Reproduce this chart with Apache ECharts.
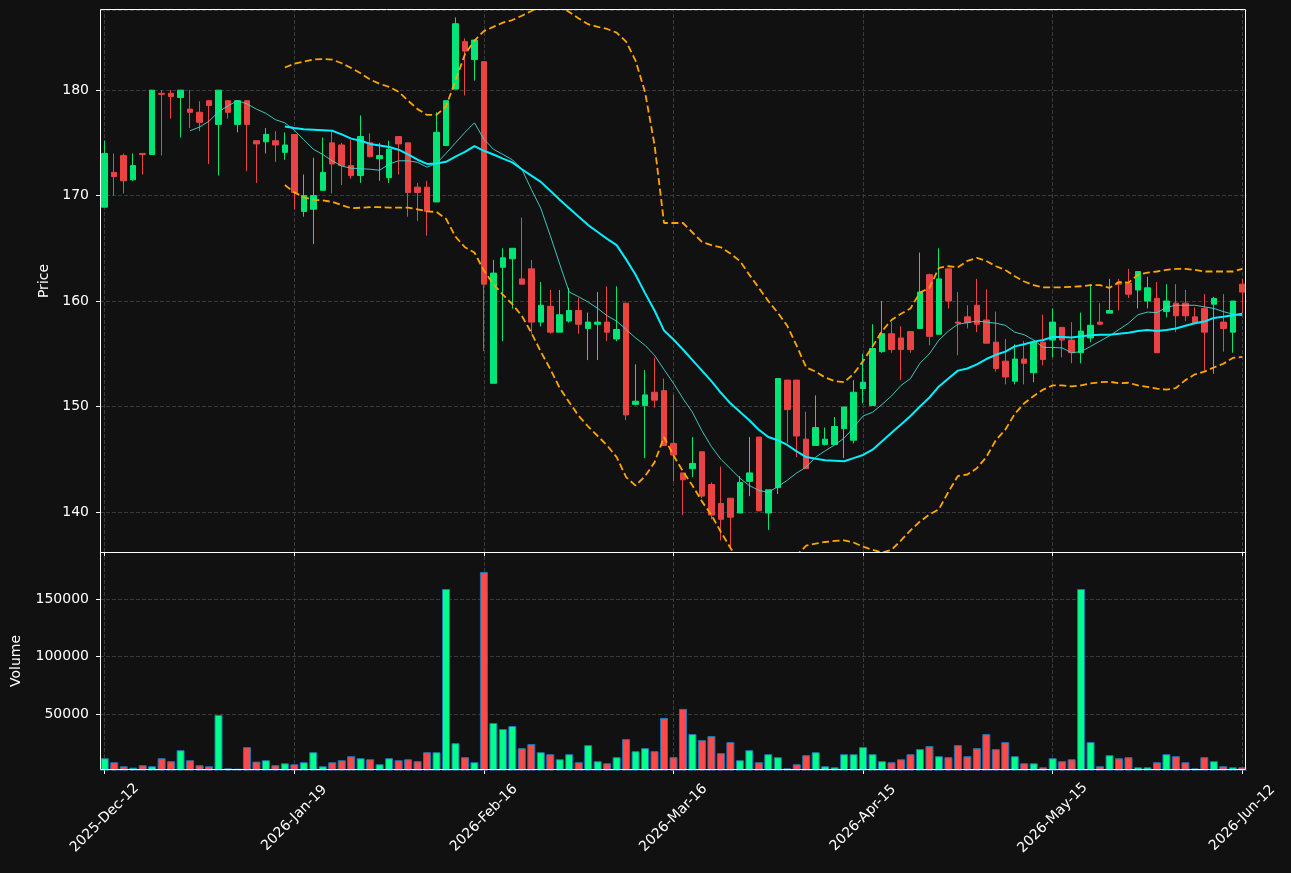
<!DOCTYPE html>
<html>
<head>
<meta charset="utf-8">
<title>Price and volume</title>
<script src="https://cdn.jsdelivr.net/npm/echarts@6/dist/echarts.min.js"></script>
<style>
  html, body { margin: 0; padding: 0; background: #111111; }
  #main { width: 1291px; height: 873px; }
</style>
</head>
<body>
<div id="main"></div>
<script>
// trading days (category axis)
var dates = [
  '2025-12-12','2025-12-15','2025-12-16','2025-12-17','2025-12-18','2025-12-19','2025-12-22','2025-12-23','2025-12-29','2025-12-30',
  '2026-01-05','2026-01-06','2026-01-07','2026-01-08','2026-01-09','2026-01-12','2026-01-13','2026-01-14','2026-01-15','2026-01-16',
  '2026-01-19','2026-01-20','2026-01-21','2026-01-22','2026-01-23','2026-01-26','2026-01-27','2026-01-28','2026-01-29','2026-01-30',
  '2026-02-02','2026-02-03','2026-02-04','2026-02-05','2026-02-06','2026-02-09','2026-02-10','2026-02-11','2026-02-12','2026-02-13',
  '2026-02-16','2026-02-17','2026-02-18','2026-02-19','2026-02-20','2026-02-23','2026-02-24','2026-02-25','2026-02-26','2026-02-27',
  '2026-03-02','2026-03-03','2026-03-04','2026-03-05','2026-03-06','2026-03-09','2026-03-10','2026-03-11','2026-03-12','2026-03-13',
  '2026-03-16','2026-03-17','2026-03-18','2026-03-19','2026-03-20','2026-03-23','2026-03-24','2026-03-25','2026-03-26','2026-03-27',
  '2026-03-30','2026-03-31','2026-04-01','2026-04-02','2026-04-07','2026-04-08','2026-04-09','2026-04-10','2026-04-13','2026-04-14',
  '2026-04-15','2026-04-16','2026-04-17','2026-04-20','2026-04-21','2026-04-22','2026-04-23','2026-04-24','2026-04-27','2026-04-28',
  '2026-04-29','2026-04-30','2026-05-04','2026-05-05','2026-05-06','2026-05-07','2026-05-08','2026-05-11','2026-05-12','2026-05-13',
  '2026-05-15','2026-05-18','2026-05-19','2026-05-20','2026-05-21','2026-05-22','2026-05-25','2026-05-26','2026-05-27','2026-05-28',
  '2026-05-29','2026-06-01','2026-06-02','2026-06-03','2026-06-04','2026-06-05','2026-06-08','2026-06-09','2026-06-10','2026-06-11',
  '2026-06-12'
];

// labelled ticks on the date axis
var tickDates = ['2025-12-12','2026-01-19','2026-02-16','2026-03-16','2026-04-15','2026-05-15','2026-06-12'];
var monthNames = ['Jan','Feb','Mar','Apr','May','Jun','Jul','Aug','Sep','Oct','Nov','Dec'];

var opens = [
  168.9, 172.2, 173.8, 171.5, 174.0, 173.9, 179.7, 179.7, 179.3, 178.2,
  177.9, 179.0, 176.75, 179.0, 176.75, 179.0, 175.2, 175.1, 175.2, 174.1,
  175.8, 168.5, 168.7, 170.5, 175.0, 174.8, 172.85, 171.9, 175.0, 173.5,
  171.7, 175.6, 175.0, 170.8, 170.8, 169.4, 174.75, 180.1, 184.6, 182.9,
  182.7, 152.2, 163.2, 164.0, 162.1, 163.05, 158.0, 159.5, 157.05, 158.1,
  159.1, 157.4, 157.8, 158.0, 156.4, 159.8, 150.2, 150.1, 151.35, 151.5,
  146.5, 143.7, 144.1, 145.7, 142.6, 140.8, 141.3, 139.9, 142.9, 147.1,
  139.9, 142.3, 152.5, 152.5, 146.9, 146.3, 146.4, 146.4, 147.9, 146.8,
  151.7, 150.1, 155.2, 156.9, 156.5, 157.1, 157.4, 162.5, 156.85, 163.05,
  158.0, 158.5, 159.6, 158.2, 156.1, 154.3, 152.4, 154.5, 153.2, 156.1,
  156.3, 157.5, 156.3, 155.1, 156.5, 158.0, 158.85, 161.8, 161.7, 161.05,
  160.0, 160.25, 159.0, 159.8, 159.8, 158.5, 159.3, 159.7, 158.0, 157.05,
  161.6
];
var closes = [
  174.0, 171.8, 171.4, 172.85, 173.9, 180.0, 179.6, 179.4, 180.0, 177.9,
  176.95, 178.55, 180.0, 177.9, 179.0, 176.75, 174.9, 175.8, 174.8, 174.8,
  170.3, 170.0, 170.0, 172.2, 173.0, 172.85, 171.9, 175.6, 173.7, 173.8,
  174.4, 174.9, 170.3, 170.3, 168.5, 176.0, 179.0, 186.3, 183.7, 184.75,
  161.6, 162.65, 164.1, 165.0, 161.6, 158.0, 159.6, 157.05, 158.7, 159.1,
  157.8, 158.0, 158.0, 157.05, 157.3, 149.2, 150.5, 151.1, 150.6, 146.3,
  145.4, 143.05, 144.6, 141.5, 139.7, 139.3, 139.5, 142.8, 143.7, 140.1,
  142.1, 152.65, 149.7, 147.2, 144.1, 148.0, 146.9, 148.1, 149.95, 151.35,
  152.3, 155.5, 156.9, 155.4, 155.4, 155.4, 160.85, 156.65, 162.1, 160.0,
  157.9, 157.95, 157.8, 156.0, 153.6, 152.8, 154.5, 154.1, 156.1, 154.45,
  158.0, 156.3, 155.1, 157.15, 157.7, 157.8, 159.1, 161.6, 160.65, 162.8,
  161.25, 155.1, 160.0, 158.6, 158.6, 157.95, 157.05, 160.25, 157.4, 160.0,
  160.85
];
var lows = [
  168.9, 170.0, 170.2, 171.4, 172.0, 173.9, 173.8, 177.3, 175.5, 176.4,
  176.1, 173.0, 171.9, 177.3, 176.0, 172.3, 171.2, 174.0, 173.2, 173.4,
  168.7, 168.0, 165.4, 170.5, 170.2, 171.0, 171.6, 171.2, 173.6, 171.4,
  171.2, 172.0, 168.0, 167.6, 166.2, 169.4, 174.75, 180.1, 179.5, 180.9,
  155.25, 152.2, 156.2, 159.3, 161.6, 156.9, 157.6, 156.9, 157.05, 157.95,
  156.9, 154.4, 154.4, 156.2, 156.2, 148.7, 150.1, 145.1, 149.9, 146.3,
  142.9, 139.7, 143.3, 141.3, 139.3, 137.3, 136.7, 139.9, 141.5, 140.1,
  138.3, 141.7, 146.5, 145.2, 144.1, 146.3, 146.3, 146.4, 145.1, 146.5,
  150.3, 150.1, 155.1, 155.1, 152.5, 155.1, 157.4, 155.8, 156.85, 159.3,
  154.85, 157.4, 157.05, 156.0, 153.3, 152.1, 152.1, 152.1, 152.3, 153.9,
  154.65, 154.65, 154.1, 154.1, 156.1, 157.8, 158.85, 159.1, 160.3, 159.3,
  159.3, 155.1, 158.45, 157.05, 158.1, 157.95, 153.4, 153.1, 155.2, 155.1,
  158.85
];
var highs = [
  175.2, 174.0, 174.0, 174.0, 174.0, 180.0, 180.0, 180.0, 180.0, 180.0,
  178.95, 179.0, 180.0, 179.0, 179.0, 179.0, 175.2, 176.4, 176.1, 176.0,
  175.8, 172.0, 173.6, 175.5, 176.2, 175.0, 175.3, 177.6, 175.9, 175.0,
  175.2, 175.6, 175.0, 171.2, 171.4, 177.9, 179.0, 186.9, 184.9, 184.75,
  182.7, 163.9, 165.0, 165.0, 167.9, 163.9, 161.8, 161.05, 161.05, 161.25,
  160.3, 158.9, 160.85, 161.4, 161.4, 159.8, 154.0, 153.45, 154.6, 152.65,
  151.1, 143.7, 147.1, 145.7, 142.8, 144.3, 141.3, 143.4, 147.1, 147.1,
  142.1, 152.65, 152.5, 152.5, 149.5, 151.05, 148.0, 149.0, 149.95, 152.5,
  155.0, 157.8, 160.0, 158.0, 157.6, 157.1, 164.6, 162.6, 165.0, 163.05,
  160.85, 159.6, 162.1, 161.1, 159.0, 156.4, 155.9, 156.2, 156.1, 158.7,
  159.3, 157.5, 158.0, 158.9, 161.6, 159.8, 162.1, 162.1, 163.05, 162.8,
  162.3, 161.8, 161.6, 161.6, 161.05, 159.4, 160.65, 160.4, 160.65, 160.0,
  162.1
];
var volumes = [
  11400, 7900, 4400, 3200, 5300, 4400, 11400, 8800, 18400, 9650,
  5300, 4400, 49100, 2600, 2300, 21050, 8500, 9650, 5300, 7000,
  6150, 7900, 16650, 4400, 7900, 9650, 13150, 11400, 10500, 6150,
  11400, 9650, 10500, 8800, 16650, 16650, 158800, 24550, 12300, 7900,
  173700, 42100, 36850, 39500, 20200, 23700, 16650, 14900, 10500, 14900,
  7900, 22800, 8800, 7000, 12300, 28050, 17550, 20200, 17550, 46500,
  12300, 54400, 32450, 27200, 30700, 15800, 25450, 9650, 18400, 7900,
  14900, 12300, 2600, 6150, 14050, 16650, 4400, 3500, 14900, 14900,
  21050, 14900, 8800, 7900, 10500, 14900, 19300, 21950, 13150, 12300,
  22800, 13150, 20200, 32450, 19300, 25450, 13150, 7000, 7000, 3500,
  11400, 8800, 10500, 158800, 25450, 4400, 14050, 11400, 12300, 3500,
  3500, 7900, 14900, 13150, 7900, 2600, 12300, 8800, 4400, 3500,
  3500
];

// indicator lines (they start once the window fills)
var ma10Start = 9;
var ma10 = [
  176.15,
  176.5, 177.05, 177.95, 178.5, 179.0, 178.7, 178.2, 177.8, 177.2, 176.9,
  176.2, 175.3, 174.4, 173.9, 173.3, 172.8, 172.6, 172.55, 172.5, 172.4,
  173.0, 173.3, 173.3, 173.15, 172.7, 173.05, 174.0, 175.0, 176.0, 176.9,
  175.35, 174.4, 173.9, 173.4, 172.5, 170.6, 168.8, 166.2, 163.5, 160.85,
  160.4, 159.9, 159.3, 158.6, 158.1, 157.3, 156.5, 155.8, 154.85, 153.5,
  152.2, 150.75, 149.45, 147.7, 146.2, 145.0, 144.1, 143.2, 142.5, 142.05,
  141.85, 142.4, 143.0, 143.7, 144.25, 145.2, 145.8, 146.35, 147.0, 148.0,
  149.1, 149.45, 150.2, 151.0, 152.0, 152.65, 154.1, 155.0, 156.3, 157.15,
  157.8, 157.95, 158.1, 158.0, 157.9, 157.7, 157.05, 156.8, 156.3, 155.6,
  155.6, 155.55, 155.1, 155.2, 155.7, 156.2, 156.7, 157.3, 157.9, 158.7,
  158.95, 158.9, 159.4, 159.6, 159.6, 159.6, 159.45, 159.3, 159.0, 158.75,
  158.6
];
var ma20Start = 19;
var ma20 = [
  176.55,
  176.4, 176.3, 176.25, 176.2, 176.15, 175.8, 175.4, 175.2, 174.9, 174.75,
  174.6, 174.35, 173.9, 173.4, 173.0, 173.05, 173.2, 173.7, 174.15, 174.7,
  174.25, 173.9, 173.5, 173.15, 172.5, 171.9, 171.3, 170.45, 169.6, 168.8,
  168.0, 167.2, 166.55, 165.9, 165.3, 163.95, 162.5, 160.75, 159.1, 157.2,
  156.35, 155.4, 154.4, 153.4, 152.4, 151.3, 150.3, 149.5, 148.7, 147.8,
  147.1, 146.8, 146.35, 145.75, 145.2, 145.05, 144.9, 144.85, 144.8, 145.1,
  145.4, 145.9, 146.7, 147.5, 148.3, 149.1, 150.0, 150.85, 151.9, 152.65,
  153.4, 153.6, 154.0, 154.5, 154.9, 155.2, 155.7, 155.9, 156.15, 156.3,
  156.6, 156.6, 156.55, 156.65, 156.75, 156.8, 156.8, 156.9, 157.0, 157.15,
  157.25, 157.15, 157.25, 157.4, 157.65, 157.9, 158.05, 158.4, 158.5, 158.65,
  158.8
];
var bandStart = 19;
var bandUpper = [
  182.15,
  182.5, 182.7, 182.9, 182.95, 182.9, 182.55, 182.1, 181.6, 181.0, 180.6,
  180.3, 179.85, 179.0, 178.2, 177.65, 177.65, 178.45, 180.9, 183.4, 184.7,
  185.6, 186.0, 186.4, 186.65, 187.05, 187.5, 188.0, 188.2, 188.0, 187.4,
  186.8, 186.25, 186.0, 185.8, 185.45, 184.6, 182.8, 179.8, 174.8, 167.4,
  167.4, 167.4, 166.5, 165.6, 165.3, 165.1, 164.5, 163.8, 162.5, 161.25,
  160.0, 158.9, 157.65, 155.75, 153.7, 153.3, 152.75, 152.4, 152.3, 153.1,
  154.3, 155.7, 157.15, 158.2, 158.8, 159.3, 160.8, 161.25, 163.15, 163.3,
  163.2, 163.8, 164.1, 163.8, 163.3, 162.95, 162.35, 161.85, 161.5, 161.3,
  161.3, 161.3, 161.35, 161.4, 161.5, 161.5, 161.25, 161.8, 161.75, 162.5,
  162.7, 162.8, 162.95, 163.05, 163.05, 162.95, 162.8, 162.8, 162.8, 162.8,
  163.05
];
var bandLower = [
  171.0,
  170.3, 169.85, 169.6, 169.55, 169.4, 169.1, 168.8, 168.85, 168.9, 168.9,
  168.85, 168.85, 168.85, 168.7, 168.5, 168.45, 167.8, 166.1, 165.1, 164.6,
  162.9, 161.6, 160.6, 159.7, 158.6, 157.0, 155.2, 153.55, 151.75, 150.4,
  149.1, 148.1, 147.2, 146.3, 145.2, 143.3, 142.5, 143.4, 144.7, 147.1,
  145.35, 143.85, 142.5, 141.0, 139.7, 138.1, 136.6, 135.2, 134.9, 134.4,
  134.2, 134.7, 135.1, 135.9, 136.8, 137.0, 137.15, 137.25, 137.3, 137.1,
  136.7, 136.4, 136.15, 136.4, 137.3, 138.25, 139.1, 139.75, 140.25, 141.9,
  143.4, 143.55, 144.15, 145.2, 146.8, 147.8, 149.3, 150.3, 151.0, 151.6,
  152.0, 152.0, 151.9, 152.0, 152.2, 152.3, 152.35, 152.2, 152.25, 152.0,
  151.85, 151.7, 151.6, 151.75, 152.5, 153.05, 153.3, 153.7, 154.05, 154.6,
  154.7
];

var upColor = '#00e676', downColor = '#ea4343';
var volUp = '#00ff88', volDown = '#ff4848';
var textColor = '#ffffff';
var gridLine = '#3a3a3a';
var font = 'DejaVu Sans';

function padFront(arr, start) {
  var out = [];
  for (var i = 0; i < start; i++) out.push(null);
  return out.concat(arr);
}
function fmtDate(d) {
  var p = d.split('-');
  return p[0] + '-' + monthNames[parseInt(p[1], 10) - 1] + '-' + p[2];
}
function isTick(idx, val) { return tickDates.indexOf(val) >= 0; }

var candleData = dates.map(function (d, i) {
  return [opens[i], closes[i], lows[i], highs[i]];
});
var volumeData = volumes.map(function (v, i) {
  return { value: v, itemStyle: { color: closes[i] >= opens[i] ? volUp : volDown } };
});
var vLines = tickDates.map(function (d) { return { xAxis: d }; });
var blank = dates.map(function () { return null; });

var myChart = echarts.init(document.getElementById('main'), null, { renderer: 'canvas' });

// vertical date gridlines live on an empty helper series so they stay behind the marks
function gridSeries(axisIdx) {
  return {
    type: 'line', xAxisIndex: axisIdx, yAxisIndex: axisIdx, data: blank, z: 0, silent: true,
    showSymbol: false,
    markLine: {
      z: 0, silent: true, symbol: ['none', 'none'], label: { show: false }, animation: false,
      emphasis: { disabled: true },
      lineStyle: { color: gridLine, type: [4, 2], width: 1 }, data: vLines
    }
  };
}

var option = {
  backgroundColor: '#111111',
  animation: false,
  grid: [
    { left: 100, top: 10, width: 1147, height: 542, containLabel: false, outerBoundsMode: 'none' },
    { left: 100, top: 552, width: 1147, height: 218, containLabel: false, outerBoundsMode: 'none' }
  ],
  xAxis: [
    {
      type: 'category', gridIndex: 0, data: dates, boundaryGap: true,
      axisLine: { show: false },
      axisTick: { show: true, alignWithLabel: true, interval: isTick, length: 4, lineStyle: { color: textColor } },
      axisLabel: { show: false },
      splitLine: { show: false }
    },
    {
      type: 'category', gridIndex: 1, data: dates, boundaryGap: true,
      axisLine: { show: false },
      axisTick: { show: true, alignWithLabel: true, interval: isTick, length: 4, lineStyle: { color: textColor } },
      axisLabel: {
        show: true, interval: isTick, rotate: 45, align: 'center', verticalAlign: 'middle',
        margin: 48, color: textColor, fontSize: 14, fontFamily: font, hideOverlap: false,
        formatter: fmtDate
      },
      splitLine: { show: false }
    }
  ],
  yAxis: [
    {
      type: 'value', gridIndex: 0, min: 136.2, max: 187.6, scale: true,
      name: 'Price', nameLocation: 'middle', nameGap: 47, nameRotate: 90,
      nameTextStyle: { color: textColor, fontSize: 14, fontFamily: font },
      axisLine: { show: false },
      axisTick: { show: true, length: 4, lineStyle: { color: textColor } },
      axisLabel: { color: textColor, fontSize: 14, fontFamily: font, margin: 11, showMinLabel: false, showMaxLabel: false },
      splitLine: { show: true, lineStyle: { color: gridLine, type: [4, 2], width: 1 } }
    },
    {
      type: 'value', gridIndex: 1,
      min: Math.min.apply(null, volumes) * 0.5,
      max: Math.max.apply(null, volumes) * 1.1,
      splitNumber: 4,
      name: 'Volume', nameLocation: 'middle', nameGap: 77, nameRotate: 90,
      nameTextStyle: { color: textColor, fontSize: 14, fontFamily: font },
      axisLine: { show: false },
      axisTick: { show: true, length: 4, lineStyle: { color: textColor } },
      axisLabel: {
        color: textColor, fontSize: 14, fontFamily: font, margin: 11, showMinLabel: false, showMaxLabel: false,
        formatter: function (v) { return String(v); }
      },
      splitLine: { show: true, lineStyle: { color: gridLine, type: [4, 2], width: 1 } }
    }
  ],
  graphic: [
    { type: 'rect', z: 100, silent: true, shape: { x: 100.5, y: 9.5, width: 1145, height: 543 },
      style: { fill: null, stroke: '#ffffff', lineWidth: 1 } },
    { type: 'rect', z: 100, silent: true, shape: { x: 100.5, y: 552.5, width: 1145, height: 217 },
      style: { fill: null, stroke: '#ffffff', lineWidth: 1 } }
  ],
  series: [
    gridSeries(0),
    gridSeries(1),
    {
      name: 'OHLC', type: 'candlestick', xAxisIndex: 0, yAxisIndex: 0, data: candleData,
      barWidth: 6, z: 3,
      itemStyle: { color: upColor, color0: downColor, borderColor: upColor, borderColor0: downColor, borderWidth: 1 }
    },
    {
      name: 'Volume', type: 'bar', xAxisIndex: 1, yAxisIndex: 1, data: volumeData,
      barWidth: 8, z: 3,
      itemStyle: { borderColor: '#1f77b4', borderWidth: 1 }
    },
    {
      name: 'MA10', type: 'line', xAxisIndex: 0, yAxisIndex: 0, data: padFront(ma10, ma10Start),
      showSymbol: false, z: 4, lineStyle: { color: 'rgba(72,214,206,0.9)', width: 1 }
    },
    {
      name: 'MA20', type: 'line', xAxisIndex: 0, yAxisIndex: 0, data: padFront(ma20, ma20Start),
      showSymbol: false, z: 4, lineStyle: { color: '#00f0ff', width: 2 }
    },
    {
      name: 'Upper band', type: 'line', xAxisIndex: 0, yAxisIndex: 0, data: padFront(bandUpper, bandStart),
      showSymbol: false, z: 5, lineStyle: { color: '#ffa500', width: 1.8, type: [7, 3.5] }
    },
    {
      name: 'Lower band', type: 'line', xAxisIndex: 0, yAxisIndex: 0, data: padFront(bandLower, bandStart),
      showSymbol: false, z: 5, lineStyle: { color: '#ffa500', width: 1.8, type: [7, 3.5] }
    }
  ]
};

myChart.setOption(option);
</script>
</body>
</html>
